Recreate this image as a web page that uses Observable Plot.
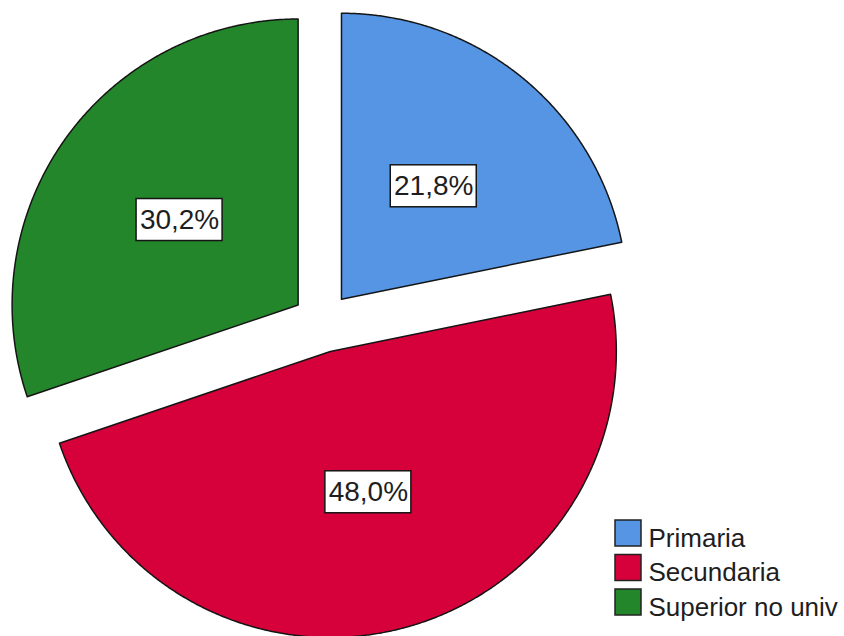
<!DOCTYPE html>
<html>
<head>
<meta charset="utf-8">
<script src="https://cdn.jsdelivr.net/npm/d3@7"></script>
<script src="https://cdn.jsdelivr.net/npm/@observablehq/plot@0.6"></script>
<style>
  html, body { margin: 0; padding: 0; background: #ffffff; }
  #chart svg { display: block; }
</style>
</head>
<body>
<div id="chart"></div>
<script>
// ---- data ----
const categories = ["Primaria", "Secundaria", "Superior no univ"];
const percents = [21.8, 48.0, 30.2];
const colors = ["#5595E4", "#D6003A", "#24862A"];

// ---- layout constants ----
const W = 844, H = 636;
const CX = 322, CY = 322, R = 286, EXPLODE = 30, LABEL_R = 0.51 * R;
const BOX_W = 86, BOX_H = 42;
const LEG_X = 615, LEG_Y = 520, LEG_SIZE = 26, LEG_STEP = 34.5, LEG_TEXT_X = 648;

const data = categories.map((c, i) => ({cat: c, value: percents[i]}));
const arcs = d3.pie().sort(null).value(d => d.value)(data);

const pt = (cx, cy, r, a) => [cx + r * Math.sin(a), cy - r * Math.cos(a)];

const polyRows = [];
const labelRows = [];
arcs.forEach(a => {
  const mid = (a.startAngle + a.endAngle) / 2;
  const [ox, oy] = pt(CX, CY, EXPLODE, mid);
  polyRows.push({cat: a.data.cat, x: ox, y: oy});
  const n = Math.ceil((a.endAngle - a.startAngle) / 0.005);
  for (let k = 0; k <= n; k++) {
    const ang = a.startAngle + (a.endAngle - a.startAngle) * k / n;
    const [x, y] = pt(ox, oy, R, ang);
    polyRows.push({cat: a.data.cat, x, y});
  }
  const [lx, ly] = pt(ox, oy, LABEL_R, mid);
  labelRows.push({cat: a.data.cat, x: lx, y: ly,
    text: a.data.value.toFixed(1).replace(".", ",") + "%"});
});

const legendRows = categories.map((c, i) => ({cat: c, i}));

const font = "'Liberation Sans', Arial, sans-serif";

const chart = Plot.plot({
  width: W,
  height: H,
  margin: 0,
  style: {background: "#ffffff", fontFamily: font},
  x: {domain: [0, W], range: [0, W], axis: null},
  y: {domain: [0, H], range: [0, H], axis: null},
  color: {domain: categories, range: colors},
  marks: [
    Plot.line(polyRows, {x: "x", y: "y", z: "cat", fill: "cat", stroke: "#151515",
      strokeWidth: 1.5, strokeLinejoin: "round", curve: "linear-closed"}),
    Plot.rect(labelRows, {
      x1: d => d.x - BOX_W / 2, x2: d => d.x + BOX_W / 2,
      y1: d => d.y - BOX_H / 2, y2: d => d.y + BOX_H / 2,
      fill: "#ffffff", stroke: "#151515", strokeWidth: 1.5}),
    Plot.text(labelRows, {x: "x", y: "y", text: "text", fontSize: 28,
      fill: "#1e1e1e", fontFamily: font}),
    Plot.rect(legendRows, {
      x1: () => LEG_X, x2: () => LEG_X + LEG_SIZE,
      y1: d => LEG_Y + d.i * LEG_STEP, y2: d => LEG_Y + d.i * LEG_STEP + LEG_SIZE,
      fill: "cat", stroke: "#222", strokeWidth: 1.5}),
    Plot.text(legendRows, {x: () => LEG_TEXT_X, y: d => LEG_Y + d.i * LEG_STEP + LEG_SIZE / 2 + 5,
      text: "cat", textAnchor: "start", fontSize: 26, fill: "#1e1e1e", fontFamily: font})
  ]
});

document.getElementById("chart").appendChild(chart);
</script>
</body>
</html>
